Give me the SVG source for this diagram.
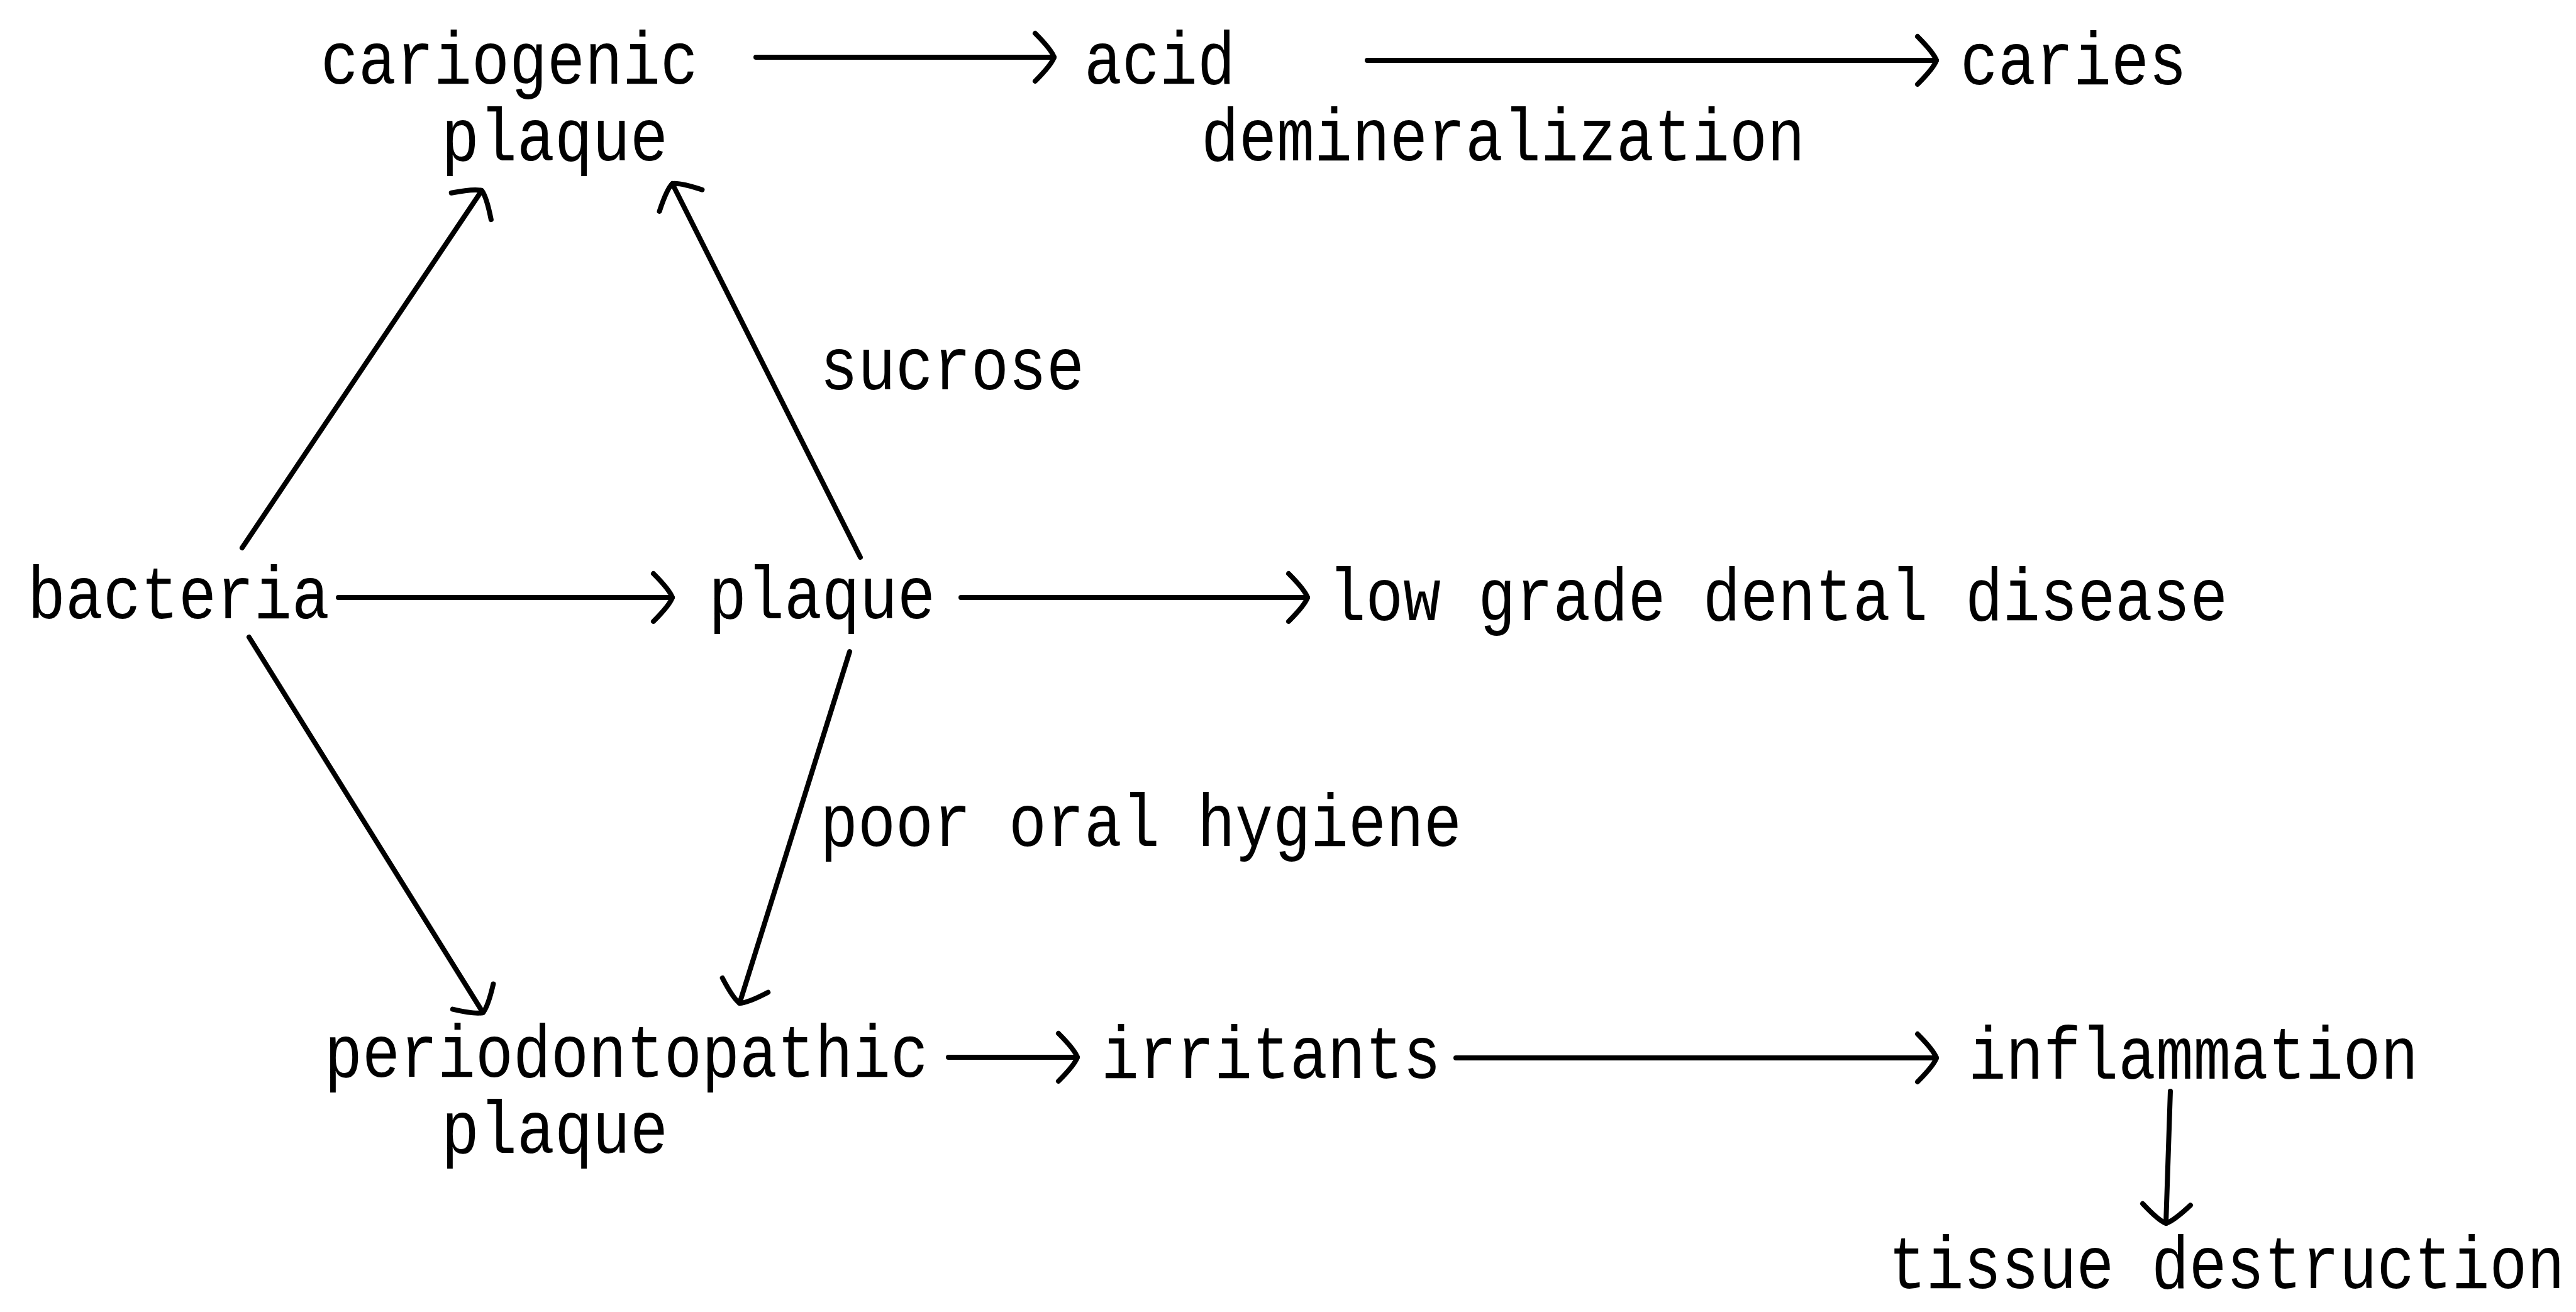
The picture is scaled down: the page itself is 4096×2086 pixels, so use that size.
<svg xmlns="http://www.w3.org/2000/svg" width="4096" height="2086" viewBox="0 0 4096 2086">
<style>
.t{font-family:"Liberation Mono","DejaVu Sans Mono",monospace;font-size:118px;fill:#000}
.c{fill:none;stroke:#000;stroke-width:8;stroke-linecap:round}
</style>
<defs>
<marker id="ah" markerUnits="userSpaceOnUse" viewBox="-40 -45 50 90" refX="0" refY="0" markerWidth="50" markerHeight="90" orient="auto" overflow="visible">
<path d="M -30,-38 Q -4,-12 0,0 Q -4,12 -30,38" fill="none" stroke="#000" stroke-width="8" stroke-linecap="round" stroke-linejoin="round"/>
</marker>
</defs>
<rect width="4096" height="2086" fill="#fff"/>
<g id="connectors">
<path class="c" d="M1202,91 L1676,91" marker-end="url(#ah)"/>
<path class="c" d="M2174,96 L3079,96" marker-end="url(#ah)"/>
<path class="c" d="M538,950 L1069,950" marker-end="url(#ah)"/>
<path class="c" d="M1528,950 L2079,950" marker-end="url(#ah)"/>
<path class="c" d="M1508,1681 L1713,1681" marker-end="url(#ah)"/>
<path class="c" d="M2315,1682 L3079,1682" marker-end="url(#ah)"/>
<path class="c" d="M3451,1735 L3444,1945" marker-end="url(#ah)"/>
<path class="c" d="M385,871 L766,303" marker-end="url(#ah)"/>
<path class="c" d="M1368,886 L1069,292" marker-end="url(#ah)"/>
<path class="c" d="M396,1013 L768,1610" marker-end="url(#ah)"/>
<path class="c" d="M1351,1036 L1176,1595" marker-end="url(#ah)"/>
</g>
<g id="cariogenic-plaque">
<text class="t" x="510" y="133" textLength="600" lengthAdjust="spacingAndGlyphs">cariogenic</text>
<text class="t" x="702" y="255" textLength="360" lengthAdjust="spacingAndGlyphs">plaque</text>
</g>
<g id="acid-demineralization">
<text class="t" x="1724" y="133" textLength="240" lengthAdjust="spacingAndGlyphs">acid</text>
<text class="t" x="1910" y="255" textLength="960" lengthAdjust="spacingAndGlyphs">demineralization</text>
</g>
<g id="caries">
<text class="t" x="3117" y="134" textLength="360" lengthAdjust="spacingAndGlyphs">caries</text>
</g>
<g id="bacteria">
<text class="t" x="44" y="983" textLength="480" lengthAdjust="spacingAndGlyphs">bacteria</text>
</g>
<g id="plaque">
<text class="t" x="1127" y="983" textLength="360" lengthAdjust="spacingAndGlyphs">plaque</text>
</g>
<g id="low-grade-dental-disease">
<text class="t" x="2112" y="986" textLength="1430" lengthAdjust="spacingAndGlyphs">low grade dental disease</text>
</g>
<g id="label-sucrose">
<text class="t" x="1304" y="619" textLength="420" lengthAdjust="spacingAndGlyphs">sucrose</text>
</g>
<g id="label-poor-oral-hygiene">
<text class="t" x="1304" y="1345" textLength="1020" lengthAdjust="spacingAndGlyphs">poor oral hygiene</text>
</g>
<g id="periodontopathic-plaque">
<text class="t" x="516" y="1712" textLength="960" lengthAdjust="spacingAndGlyphs">periodontopathic</text>
<text class="t" x="702" y="1833" textLength="360" lengthAdjust="spacingAndGlyphs">plaque</text>
</g>
<g id="irritants">
<text class="t" x="1751" y="1714" textLength="540" lengthAdjust="spacingAndGlyphs">irritants</text>
</g>
<g id="inflammation">
<text class="t" x="3130" y="1715" textLength="715" lengthAdjust="spacingAndGlyphs">inflammation</text>
</g>
<g id="tissue-destruction">
<text class="t" x="4078" y="2048" text-anchor="end" textLength="1075" lengthAdjust="spacingAndGlyphs">tissue destruction</text>
</g>
</svg>
